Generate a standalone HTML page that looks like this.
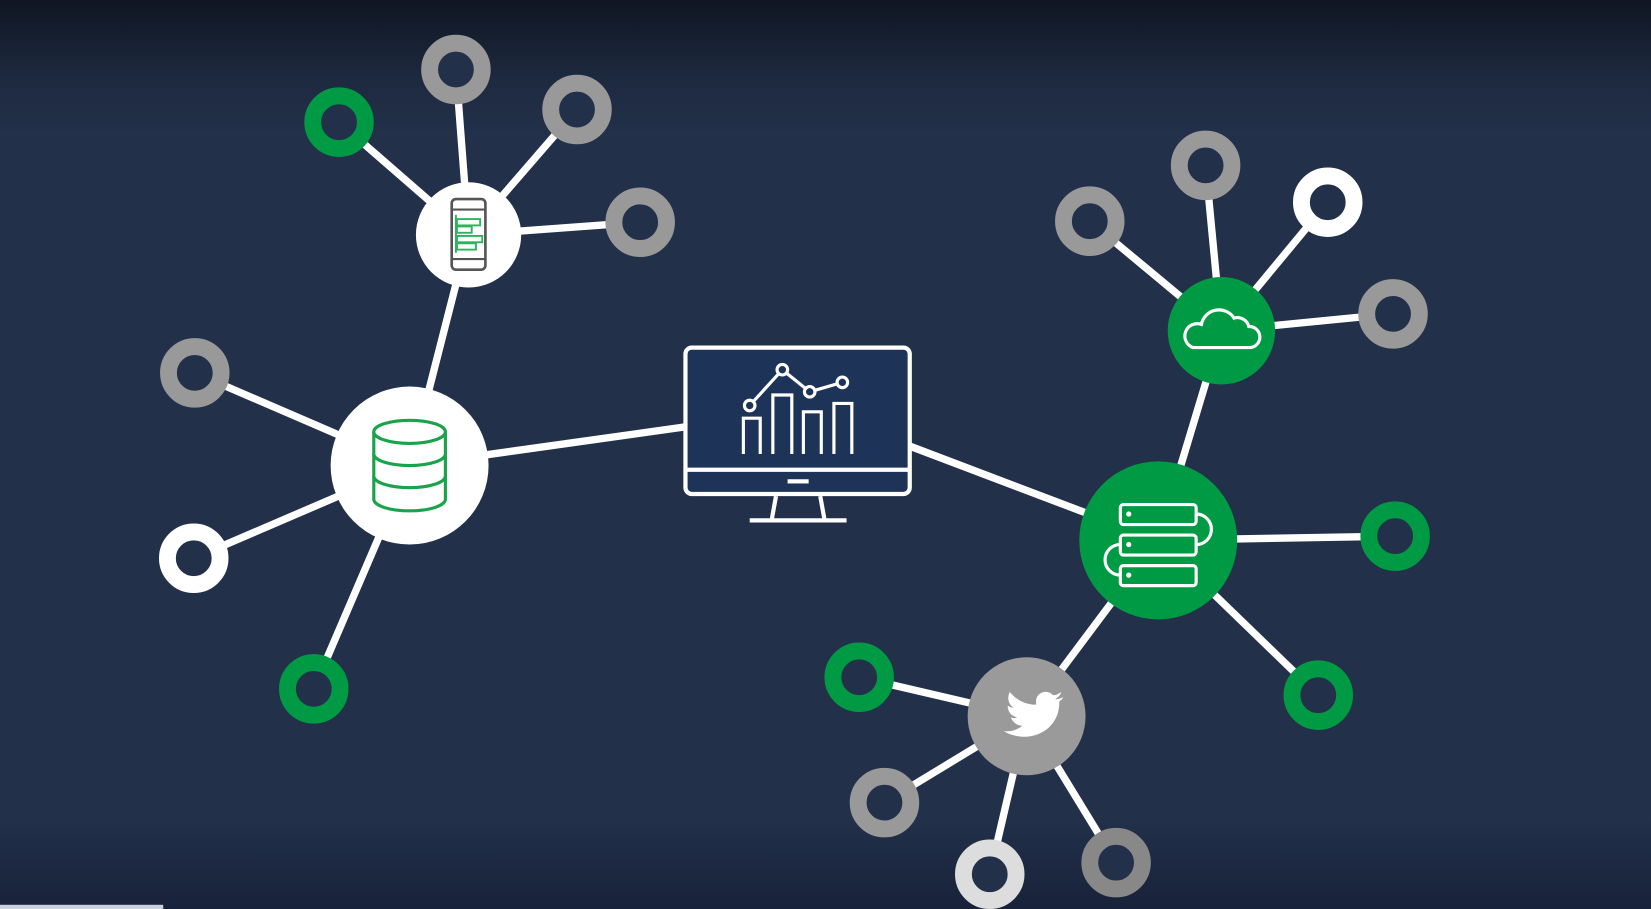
<!DOCTYPE html>
<html><head><meta charset="utf-8"><style>html,body{margin:0;padding:0;background:#22304a;overflow:hidden}svg{display:block}</style></head>
<body>
<svg width="1651" height="909" viewBox="0 0 1568 863" preserveAspectRatio="none" xmlns="http://www.w3.org/2000/svg">
<defs>
<linearGradient id="bg" x1="0" y1="0" x2="0" y2="1">
<stop offset="0" stop-color="#0f1622"/>
<stop offset="0.09" stop-color="#1e2a40"/>
<stop offset="0.15" stop-color="#22304a"/>
<stop offset="0.9" stop-color="#22304a"/>
<stop offset="1" stop-color="#18223a"/>
</linearGradient>
</defs>
<rect width="1568" height="863" fill="url(#bg)"/>
<rect x="0" y="859" width="155" height="4" fill="#c8d0dc"/>
<g stroke="#fff" stroke-width="7" stroke-linecap="round">
<line x1="445" y1="223" x2="322" y2="116"/>
<line x1="445" y1="223" x2="433" y2="66"/>
<line x1="445" y1="223" x2="548" y2="104"/>
<line x1="445" y1="223" x2="608" y2="211"/>
<line x1="445" y1="223" x2="389" y2="442"/>
<line x1="389" y1="442" x2="185" y2="354"/>
<line x1="389" y1="442" x2="184" y2="530"/>
<line x1="389" y1="442" x2="298" y2="654"/>
<line x1="389" y1="442" x2="660" y2="404"/>
<line x1="860" y1="422" x2="1100" y2="513"/>
<line x1="1160" y1="314" x2="1035" y2="210"/>
<line x1="1160" y1="314" x2="1145" y2="157"/>
<line x1="1160" y1="314" x2="1261" y2="192"/>
<line x1="1160" y1="314" x2="1323" y2="298"/>
<line x1="1160" y1="314" x2="1100" y2="513"/>
<line x1="1100" y1="513" x2="1325" y2="509"/>
<line x1="1100" y1="513" x2="1252" y2="660"/>
<line x1="1100" y1="513" x2="975" y2="680"/>
<line x1="975" y1="680" x2="816" y2="643"/>
<line x1="975" y1="680" x2="840" y2="762"/>
<line x1="975" y1="680" x2="940" y2="830"/>
<line x1="975" y1="680" x2="1060" y2="819"/>
</g>
<g fill="#22304a" stroke-width="16">
<circle cx="322" cy="116" r="25" stroke="#009a44"/>
<circle cx="433" cy="66" r="25" stroke="#999"/>
<circle cx="548" cy="104" r="25" stroke="#999"/>
<circle cx="608" cy="211" r="25" stroke="#999"/>
<circle cx="185" cy="354" r="25" stroke="#999"/>
<circle cx="184" cy="530" r="25" stroke="#fff"/>
<circle cx="298" cy="654" r="25" stroke="#009a44"/>
<circle cx="1035" cy="210" r="25" stroke="#999"/>
<circle cx="1145" cy="157" r="25" stroke="#999"/>
<circle cx="1261" cy="192" r="25" stroke="#fff"/>
<circle cx="1323" cy="298" r="25" stroke="#999"/>
<circle cx="1325" cy="509" r="25" stroke="#009a44"/>
<circle cx="1252" cy="660" r="25" stroke="#009a44"/>
<circle cx="816" cy="643" r="25" stroke="#009a44"/>
<circle cx="840" cy="762" r="25" stroke="#999"/>
<circle cx="940" cy="830" r="25" stroke="#ddd"/>
<circle cx="1060" cy="819" r="25" stroke="#888"/>
</g>
<!-- phone node -->
<circle cx="445" cy="223" r="50" fill="#fff"/>
<rect x="429" y="189" width="32" height="67" rx="4" fill="none" stroke="#555" stroke-width="2.5"/>
<line x1="429" y1="199" x2="461" y2="199" stroke="#555" stroke-width="2"/>
<line x1="429" y1="246" x2="461" y2="246" stroke="#555" stroke-width="2"/>
<g fill="none" stroke="#2db35d" stroke-width="1.8">
<line x1="433" y1="204" x2="433" y2="240"/>
<rect x="434" y="208" width="22" height="6"/>
<rect x="434" y="215" width="14" height="6"/>
<rect x="434" y="224" width="24" height="6"/>
<rect x="434" y="231" width="18" height="6"/>
</g>
<!-- db node -->
<circle cx="389" cy="442" r="75" fill="#fff"/>
<g fill="none" stroke="#1aa34a" stroke-width="3">
<ellipse cx="389" cy="410" rx="34" ry="11"/>
<path d="M355 410 V474 A34 11 0 0 0 423 474 V410"/>
<path d="M355 431 A34 11 0 0 0 423 431"/>
<path d="M355 452 A34 11 0 0 0 423 452"/>
</g>
<!-- monitor -->
<rect x="651" y="330" width="213" height="139" rx="6" fill="#1e3358" stroke="#fff" stroke-width="4"/>
<line x1="651" y1="446" x2="864" y2="446" stroke="#fff" stroke-width="4"/>
<rect x="748" y="455" width="20" height="4" fill="#fff"/>
<path d="M737 471 L733 493 M779 471 L783 493" stroke="#fff" stroke-width="4"/>
<line x1="712" y1="494" x2="804" y2="494" stroke="#fff" stroke-width="4"/>
<g fill="none" stroke="#fff" stroke-width="3">
<path d="M706 431 V397 H722 V431 M734 431 V375 H752 V431 M763 431 V391 H780 V431 M792 431 V383 H809 V431"/>
<polyline points="712,385 743,351 769,372 800,363"/>
</g>
<g fill="#1e3358" stroke="#fff" stroke-width="3">
<circle cx="712" cy="385" r="5"/><circle cx="743" cy="351" r="5"/><circle cx="769" cy="372" r="5"/><circle cx="800" cy="363" r="5"/>
</g>
<!-- cloud node -->
<circle cx="1160" cy="314" r="51" fill="#009a44"/>
<path d="M1133 330 H1187 A10 10 0 0 0 1186 310 A11 11 0 0 0 1172 302 A17 17 0 0 0 1141 308 A11 11 0 0 0 1133 330 Z" fill="none" stroke="#fff" stroke-width="3"/>
<!-- server node -->
<circle cx="1100" cy="513" r="75" fill="#009a44"/>
<g fill="none" stroke="#fff" stroke-width="3">
<rect x="1064" y="479" width="72" height="19" rx="3"/>
<rect x="1064" y="508" width="72" height="19" rx="3"/>
<rect x="1064" y="537" width="72" height="19" rx="3"/>
<path d="M1136 488 A13 13 0 0 1 1136 517"/>
<path d="M1064 517 A13 13 0 0 0 1064 546"/>
</g>
<g fill="#fff"><circle cx="1072" cy="488" r="2.5"/><circle cx="1072" cy="517" r="2.5"/><circle cx="1072" cy="546" r="2.5"/></g>
<!-- twitter node -->
<circle cx="975" cy="680" r="56" fill="#9a9a9a"/>
<path d="M1010 662 c-3 1 -5 2 -8 2 c3 -2 5 -4 6 -7 c-3 2 -5 3 -8 3 c-5 -6 -16 -3 -16 6 l0 3 c-11 0 -19 -5 -25 -12 c-3 6 -1 12 4 15 c-2 0 -4 -1 -6 -2 c0 6 4 10 9 11 c-2 1 -4 1 -6 0 c2 5 6 8 11 8 c-5 4 -11 6 -18 5 c24 14 54 0 53 -28 c2 -1 3 -3 4 -4 z" fill="#fff"/>
</svg>
</body></html>
